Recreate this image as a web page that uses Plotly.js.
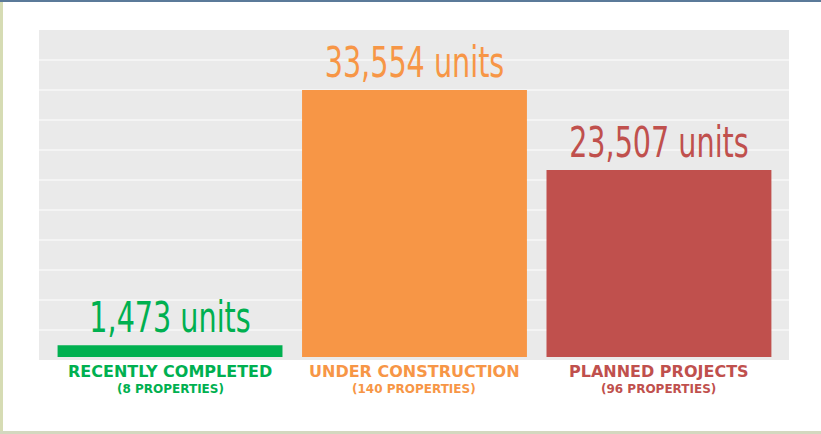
<!DOCTYPE html>
<html>
<head>
<meta charset="utf-8">
<script src="https://cdn.plot.ly/plotly-3.0.1.min.js"></script>
<style>
  html, body { margin: 0; padding: 0; background: #ffffff; }
  #chart { width: 821px; height: 434px; }
</style>
</head>
<body>
<div id="chart"></div>
<script>
// ---- data ----
const categories = ["RECENTLY COMPLETED", "UNDER CONSTRUCTION", "PLANNED PROJECTS"];
const subLabels = ["(8 PROPERTIES)", "(140 PROPERTIES)", "(96 PROPERTIES)"];
const units = [1473, 33554, 23507];
const colors = ["#00b050", "#f79646", "#c0504d"];

const trace = {
  type: "bar",
  x: categories,
  y: units,
  marker: { color: colors },
  texttemplate: "%{y:,} units",
  textposition: "outside",
  constraintext: "none",
  cliponaxis: false,
  outsidetextfont: { family: "DejaVu Sans Condensed, DejaVu Sans, sans-serif", size: 43, color: colors },
  hoverinfo: "skip"
};

const shapes = [];
// horizontal white grid lines
for (let k = 1; k <= 10; k++) {
  shapes.push({ type: "line", xref: "paper", yref: "paper", x0: 0, x1: 1, y0: k / 11, y1: k / 11,
    line: { color: "#f7f7f7", width: 1.5 }, layer: "below" });
}
// page decorations
shapes.push({ type: "rect", xref: "paper", yref: "paper", x0: -0.06, x1: 1.05, y0: 1.0848, y1: 1.10,
  line: { width: 0 }, fillcolor: "#5b7a99", layer: "below" });
shapes.push({ type: "rect", xref: "paper", yref: "paper", x0: -0.06, x1: -0.048, y0: -0.25, y1: 1.0848,
  line: { width: 0 }, fillcolor: "#d6dcb4", layer: "below" });
shapes.push({ type: "rect", xref: "paper", yref: "paper", x0: -0.06, x1: 1.05, y0: -0.25, y1: -0.2152,
  line: { width: 0 }, fillcolor: "#d3d8bf", layer: "below" });

const annotations = [];
categories.forEach((c, i) => {
  annotations.push({ x: c, xref: "x", y: 0, yref: "paper", yanchor: "middle", yshift: -11,
    text: c, showarrow: false,
    font: { family: "DejaVu Sans, sans-serif", size: 16, weight: "bold", color: colors[i] } });
  annotations.push({ x: c, xref: "x", y: 0, yref: "paper", yanchor: "middle", yshift: -28.5,
    text: subLabels[i], showarrow: false,
    font: { family: "DejaVu Sans, sans-serif", size: 12, weight: "bold", color: colors[i] } });
});

const layout = {
  width: 821, height: 434,
  margin: { l: 39, r: 32, t: 30, b: 74, pad: 0 },
  paper_bgcolor: "#ffffff",
  plot_bgcolor: "#eaeaea",
  showlegend: false,
  bargap: 0.08,
  xaxis: { range: [-0.536, 2.532], showticklabels: false, showgrid: false, zeroline: false, showline: false, ticks: "" },
  yaxis: { range: [-377, 41100], showticklabels: false, showgrid: false, zeroline: false, showline: false, ticks: "" },
  shapes: shapes,
  annotations: annotations
};

Plotly.newPlot("chart", [trace], layout, { displayModeBar: false, staticPlot: true }).then(function (gd) {
  // condense the big value labels horizontally (reference uses a very narrow display face)
  gd.querySelectorAll("text.bartext").forEach(function (t) {
    const len = t.getComputedTextLength();
    t.setAttribute("textLength", (len * 0.74).toFixed(1));
    t.setAttribute("lengthAdjust", "spacingAndGlyphs");
  });
});
</script>
</body>
</html>
